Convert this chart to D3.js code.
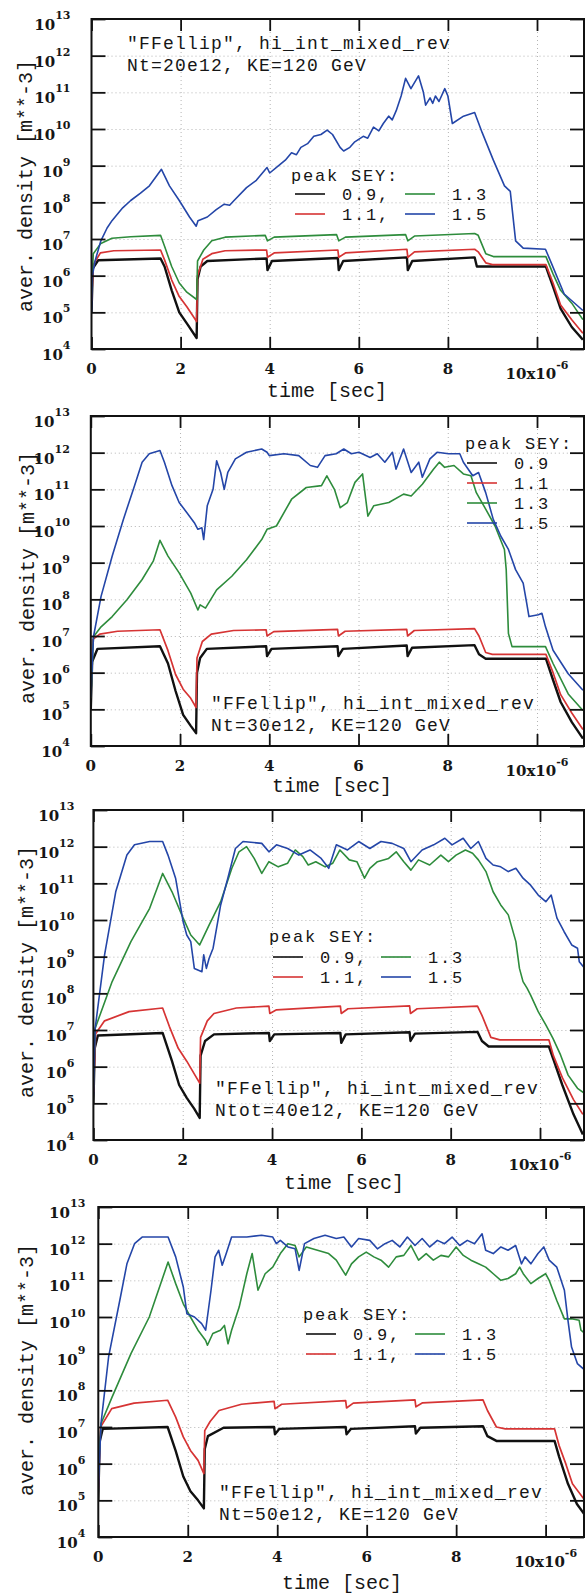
<!DOCTYPE html>
<html>
<head>
<meta charset="utf-8">
<script src="https://cdn.jsdelivr.net/npm/d3@7"></script>
<style>
body { margin: 0; background: #fff; }
svg { display: block; }
.num { font-family: "DejaVu Serif", serif; font-weight: bold; font-size: 15px; fill: #161616; }
.mono { font-family: "Liberation Mono", "DejaVu Sans Mono", monospace; font-size: 20px; fill: #161616; }
.cap { font-family: "Liberation Mono", "DejaVu Sans Mono", monospace; font-size: 18px; letter-spacing: 1.2px; fill: #161616; }
.leg { font-family: "Liberation Mono", "DejaVu Sans Mono", monospace; font-size: 17px; letter-spacing: 1.8px; fill: #161616; }
</style>
</head>
<body>
<div id="chart"></div>
<script>
// time in units of 1e-6 sec, density given as log10 [m**-3]
var xTicks = [0, 2, 4, 6, 8, 10];
var xTickLabels = ["0", "2", "4", "6", "8", "10x10"];
var yExponents = [4, 5, 6, 7, 8, 9, 10, 11, 12, 13];
var seyLabels = ["0.9", "1.1", "1.3", "1.5"];
var seyColors = ["#111111", "#d63434", "#2e8c3c", "#2446a8"];
var captionTop = '"FFellip", hi_int_mixed_rev';
var captionBottom = ["Nt=20e12, KE=120 GeV", "Nt=30e12, KE=120 GeV", "Ntot=40e12, KE=120 GeV", "Nt=50e12, KE=120 GeV"];

// ---- Nt = 20e12
var p1Black = [[0,5.0],[0.03,6.2],[0.15,6.42],[1.55,6.47],[1.64,6.25],[1.8,5.6],[1.97,5.0],[2.14,4.7],[2.36,4.3],[2.38,5.9],[2.45,6.25],[2.6,6.4],[3.93,6.47],[3.95,6.15],[4.05,6.4],[5.53,6.48],[5.55,6.15],[5.65,6.4],[7.08,6.5],[7.1,6.15],[7.2,6.4],[8.6,6.5],[8.65,6.25],[10.2,6.25],[10.36,5.7],[10.53,5.1],[10.78,4.6],[11.03,4.25]];
var p1Red = [[0,5.3],[0.04,6.3],[0.2,6.62],[0.5,6.68],[1.55,6.7],[1.64,6.43],[1.8,5.88],[1.97,5.43],[2.14,5.15],[2.36,4.75],[2.38,6.0],[2.5,6.45],[2.7,6.6],[3.0,6.68],[3.93,6.7],[3.95,6.5],[4.1,6.62],[5.53,6.7],[5.55,6.5],[5.7,6.62],[7.08,6.72],[7.1,6.5],[7.25,6.65],[8.6,6.72],[8.68,6.65],[8.85,6.35],[9.0,6.3],[10.2,6.3],[10.36,5.8],[10.53,5.2],[10.78,4.8],[11.03,4.43]];
var p1Green = [[0,5.5],[0.04,6.6],[0.21,6.88],[0.46,7.02],[0.88,7.06],[1.55,7.1],[1.64,6.8],[1.8,6.25],[1.97,5.8],[2.14,5.55],[2.36,5.35],[2.38,6.4],[2.52,6.7],[2.7,6.95],[3.0,7.05],[3.9,7.1],[3.95,6.95],[4.1,7.05],[5.5,7.12],[5.55,6.95],[5.7,7.05],[7.05,7.12],[7.1,6.95],[7.25,7.08],[8.6,7.15],[8.68,7.1],[8.85,6.6],[9.02,6.52],[10.2,6.52],[10.36,6.05],[10.53,5.6],[10.78,5.25],[11.03,4.8]];
var p1Blue = [[0,5.0],[0.02,6.0],[0.08,6.4],[0.21,6.95],[0.35,7.3],[0.46,7.5],[0.7,7.85],[0.88,8.05],[1.1,8.25],[1.3,8.45],[1.57,8.9],[1.75,8.45],[1.97,8.05],[2.2,7.6],[2.35,7.35],[2.39,7.5],[2.6,7.6],[2.8,7.8],[2.98,7.95],[3.1,7.92],[3.2,8.05],[3.48,8.4],[3.7,8.6],[3.94,8.95],[4.0,8.8],[4.2,9.0],[4.35,9.15],[4.49,9.35],[4.6,9.3],[4.7,9.5],[4.85,9.6],[4.99,9.8],[5.15,9.85],[5.29,9.97],[5.41,9.85],[5.58,9.5],[5.66,9.4],[5.8,9.5],[5.91,9.65],[6.1,9.8],[6.2,9.75],[6.33,10.05],[6.45,9.95],[6.55,10.15],[6.67,10.35],[6.75,10.25],[6.84,10.5],[6.95,10.9],[7.05,11.38],[7.17,11.1],[7.34,11.45],[7.45,11.0],[7.5,10.65],[7.6,10.85],[7.66,10.7],[7.72,10.9],[7.8,10.75],[7.93,11.1],[8.0,10.9],[8.1,10.15],[8.35,10.35],[8.6,10.45],[8.77,9.9],[9.02,9.15],[9.27,8.45],[9.4,8.3],[9.52,6.95],[9.69,6.75],[10.19,6.72],[10.32,6.35],[10.61,5.5],[11.03,5.05]];

// ---- Nt = 30e12
var p2Black = [[0,5.0],[0.03,6.3],[0.15,6.65],[1.55,6.72],[1.73,6.25],[1.9,5.5],[2.07,4.85],[2.24,4.55],[2.36,4.35],[2.38,6.0],[2.45,6.4],[2.6,6.65],[3.93,6.72],[3.95,6.45],[4.05,6.65],[5.53,6.72],[5.55,6.45],[5.65,6.65],[7.08,6.74],[7.1,6.45],[7.2,6.68],[8.6,6.75],[8.7,6.5],[8.85,6.38],[10.2,6.38],[10.36,5.8],[10.53,5.2],[10.78,4.65],[11.03,4.2]];
var p2Red = [[0,5.3],[0.04,6.9],[0.2,7.05],[0.6,7.13],[1.55,7.17],[1.73,6.6],[1.9,5.95],[2.07,5.55],[2.24,5.3],[2.36,5.05],[2.38,6.4],[2.5,6.85],[2.7,7.05],[3.2,7.15],[3.93,7.17],[3.95,7.0],[4.1,7.12],[5.53,7.18],[5.55,7.0],[5.7,7.13],[7.08,7.18],[7.1,7.0],[7.25,7.15],[8.6,7.2],[8.7,7.0],[8.85,6.55],[9.0,6.5],[10.2,6.5],[10.36,6.0],[10.53,5.4],[10.78,4.9],[11.03,4.45]];
var p2Green = [[0,5.3],[0.06,6.98],[0.23,7.25],[0.48,7.53],[0.81,7.99],[1.15,8.54],[1.4,9.04],[1.55,9.61],[1.73,9.18],[1.98,8.72],[2.24,8.17],[2.4,7.71],[2.45,7.85],[2.57,7.76],[2.82,8.26],[3.16,8.63],[3.49,9.08],[3.83,9.63],[3.95,9.91],[4.16,10.0],[4.5,10.73],[4.83,11.05],[5.17,11.1],[5.29,11.37],[5.46,11.0],[5.59,10.5],[5.75,10.64],[5.92,11.19],[6.09,11.42],[6.21,10.27],[6.34,10.55],[6.68,10.64],[7.01,10.87],[7.18,10.82],[7.43,11.14],[7.68,11.55],[7.81,11.74],[7.93,11.6],[8.14,11.65],[8.35,11.42],[8.52,11.37],[8.64,10.91],[8.85,10.46],[9.06,10.0],[9.27,9.36],[9.31,8.81],[9.36,7.07],[9.44,6.71],[10.19,6.71],[10.36,6.25],[10.7,5.42],[11.03,4.97]];
var p2Blue = [[0,5.33],[0.06,6.98],[0.23,8.08],[0.48,9.18],[0.73,10.18],[0.98,11.1],[1.15,11.74],[1.31,11.97],[1.55,12.06],[1.65,11.74],[1.82,11.1],[1.98,10.64],[2.15,10.37],[2.32,10.09],[2.4,9.91],[2.49,9.95],[2.53,9.63],[2.61,10.55],[2.74,11.0],[2.82,11.78],[2.91,11.46],[2.99,11.0],[3.07,11.46],[3.24,11.83],[3.49,12.01],[3.83,12.1],[3.95,12.01],[4.0,11.92],[4.33,11.97],[4.66,11.92],[4.92,11.65],[5.08,11.6],[5.25,11.92],[5.5,11.97],[5.67,12.1],[5.84,11.97],[6.01,12.01],[6.26,11.87],[6.42,11.97],[6.59,11.74],[6.76,12.01],[6.84,11.55],[7.01,12.1],[7.18,11.46],[7.35,11.74],[7.43,11.33],[7.6,11.83],[7.76,12.01],[8.02,11.97],[8.27,11.97],[8.35,11.74],[8.56,11.37],[8.69,11.46],[8.85,10.91],[9.02,10.18],[9.19,9.72],[9.36,9.36],[9.52,8.81],[9.69,8.44],[9.77,7.89],[9.82,7.53],[10.03,7.58],[10.11,7.62],[10.19,7.25],[10.36,6.61],[10.7,5.97],[11.03,5.52]];

// ---- Ntot = 40e12
var p3Black = [[0,5.0],[0.03,6.5],[0.1,6.85],[1.55,6.92],[1.76,6.15],[1.92,5.5],[2.09,5.15],[2.26,4.85],[2.38,4.6],[2.4,6.3],[2.5,6.7],[2.7,6.88],[3.93,6.92],[3.95,6.7],[4.05,6.88],[5.53,6.92],[5.55,6.65],[5.65,6.88],[7.08,6.94],[7.1,6.7],[7.2,6.9],[8.6,6.95],[8.7,6.7],[8.85,6.55],[10.2,6.55],[10.3,6.2],[10.5,5.5],[10.75,4.7],[10.96,4.15]];
var p3Red = [[0,5.3],[0.05,6.9],[0.25,7.25],[0.8,7.5],[1.55,7.6],[1.7,7.1],[1.9,6.5],[2.09,6.15],[2.38,5.55],[2.4,6.8],[2.55,7.25],[2.7,7.45],[3.2,7.6],[3.93,7.65],[3.95,7.45],[4.1,7.55],[5.53,7.65],[5.55,7.45],[5.7,7.58],[7.08,7.66],[7.1,7.45],[7.25,7.58],[8.6,7.65],[8.7,7.4],[8.9,6.8],[9.1,6.73],[10.2,6.73],[10.3,6.3],[10.5,5.7],[10.75,5.1],[10.96,4.7]];
var p3Green = [[0,5.41],[0.04,7.05],[0.42,8.32],[0.84,9.41],[1.26,10.32],[1.55,11.27],[1.76,10.77],[2.01,10.05],[2.18,9.59],[2.38,9.32],[2.59,9.86],[2.85,10.5],[3.1,11.41],[3.26,11.86],[3.43,12.0],[3.6,11.68],[3.77,11.27],[3.93,11.59],[4.14,11.45],[4.35,11.55],[4.52,11.91],[4.69,11.73],[4.81,11.5],[4.98,11.59],[5.19,11.45],[5.36,11.55],[5.52,11.91],[5.73,11.64],[5.9,11.59],[6.07,11.14],[6.19,11.41],[6.36,11.59],[6.61,11.68],[6.78,11.86],[6.95,11.59],[7.11,11.36],[7.28,11.64],[7.53,11.5],[7.78,11.77],[7.95,11.59],[8.12,11.77],[8.33,11.91],[8.49,11.82],[8.62,11.64],[8.79,11.32],[8.95,10.77],[9.12,10.41],[9.29,10.14],[9.46,9.41],[9.54,8.68],[9.62,8.32],[9.71,8.14],[9.79,7.95],[9.96,7.5],[10.13,7.14],[10.29,6.77],[10.46,6.32],[10.63,5.77],[10.84,5.41],[11.0,5.27]];
var p3Blue = [[0,5.23],[0.04,7.05],[0.25,9.05],[0.5,10.77],[0.75,11.77],[0.92,12.05],[1.26,12.14],[1.55,12.14],[1.67,11.77],[1.84,11.14],[2.01,9.95],[2.09,9.59],[2.18,9.41],[2.26,8.68],[2.43,8.59],[2.47,9.05],[2.53,8.68],[2.59,8.95],[2.68,9.23],[2.85,10.41],[3.01,11.14],[3.18,11.95],[3.35,12.14],[3.77,12.09],[3.93,11.86],[4.1,12.05],[4.35,11.95],[4.6,11.77],[4.85,11.91],[5.1,11.68],[5.27,11.41],[5.44,12.05],[5.69,11.91],[5.94,12.14],[6.19,11.95],[6.44,12.14],[6.69,12.09],[6.95,11.95],[7.11,11.59],[7.36,11.91],[7.62,12.05],[7.87,12.23],[8.03,12.05],[8.28,12.23],[8.45,11.95],[8.62,12.14],[8.79,11.68],[8.95,11.5],[9.12,11.45],[9.29,11.32],[9.46,11.41],[9.62,11.14],[9.79,10.95],[9.96,10.68],[10.13,10.5],[10.25,10.68],[10.38,10.05],[10.54,9.68],[10.71,9.32],[10.84,9.23],[10.88,8.86],[11.0,8.68]];

// ---- Nt = 50e12
var p4Black = [[0,5.0],[0.03,6.6],[0.1,6.95],[1.55,7.0],[1.73,6.35],[1.9,5.65],[2.06,5.25],[2.23,5.0],[2.36,4.78],[2.38,6.4],[2.45,6.75],[2.8,6.98],[3.93,7.0],[3.95,6.8],[4.05,6.95],[5.53,7.0],[5.55,6.8],[5.65,6.95],[7.08,7.02],[7.1,6.82],[7.2,6.98],[8.6,7.02],[8.7,6.75],[8.9,6.62],[10.2,6.62],[10.3,6.2],[10.5,5.45],[10.7,4.9],[10.88,4.6]];
var p4Red = [[0,5.3],[0.05,7.0],[0.3,7.5],[0.8,7.65],[1.55,7.73],[1.73,7.27],[1.9,6.73],[2.06,6.36],[2.23,6.09],[2.36,5.73],[2.38,6.9],[2.5,7.15],[2.7,7.45],[3.2,7.62],[3.93,7.7],[3.95,7.5],[4.1,7.62],[5.53,7.72],[5.55,7.52],[5.7,7.65],[7.08,7.74],[7.1,7.55],[7.25,7.66],[8.6,7.74],[8.7,7.45],[8.9,7.0],[9.1,6.95],[10.2,6.95],[10.3,6.5],[10.45,6.0],[10.6,5.45],[10.88,5.0]];
var p4Green = [[0,5.73],[0.06,7.09],[0.31,7.82],[0.73,9.0],[1.14,10.0],[1.56,11.5],[1.73,10.91],[1.9,10.36],[2.06,10.0],[2.23,9.64],[2.4,9.36],[2.44,9.23],[2.56,9.55],[2.73,9.64],[2.82,9.77],[2.9,9.27],[2.98,9.64],[3.15,10.27],[3.32,11.18],[3.44,11.73],[3.57,10.73],[3.73,11.18],[3.9,11.36],[4.07,11.73],[4.24,12.0],[4.4,11.95],[4.49,11.64],[4.65,11.91],[4.9,11.82],[5.15,11.73],[5.32,11.55],[5.53,11.14],[5.66,11.45],[5.82,11.64],[5.99,11.77],[6.16,11.64],[6.32,11.55],[6.49,11.36],[6.66,11.64],[6.83,11.68],[6.99,11.95],[7.16,11.55],[7.33,11.73],[7.49,11.55],[7.66,11.68],[7.83,11.64],[8.0,11.91],[8.16,11.68],[8.33,11.55],[8.5,11.45],[8.66,11.36],[8.83,11.18],[9.0,11.0],[9.16,11.05],[9.33,11.18],[9.42,11.36],[9.5,11.18],[9.67,10.91],[9.83,11.05],[10.0,11.18],[10.08,11.0],[10.25,10.45],[10.42,9.95],[10.58,9.95],[10.75,9.91],[10.79,9.64],[10.88,9.55]];
var p4Blue = [[0,5.27],[0.06,7.09],[0.23,8.91],[0.48,10.45],[0.64,11.45],[0.81,12.0],[0.98,12.18],[1.56,12.18],[1.73,11.64],[1.9,10.82],[1.98,10.09],[2.15,10.0],[2.31,9.82],[2.4,9.64],[2.44,10.0],[2.52,10.73],[2.61,11.64],[2.69,11.82],[2.77,11.41],[2.86,11.73],[2.98,12.18],[3.32,12.18],[3.65,12.23],[3.9,12.18],[3.98,12.0],[4.07,12.09],[4.24,11.91],[4.4,11.86],[4.49,11.27],[4.61,12.0],[4.82,12.14],[5.07,12.23],[5.32,12.14],[5.49,12.18],[5.66,11.91],[5.82,12.14],[6.07,12.09],[6.24,11.86],[6.41,12.0],[6.57,12.09],[6.74,11.91],[6.91,12.18],[7.08,11.95],[7.24,12.14],[7.41,11.91],[7.58,12.09],[7.74,12.0],[7.91,12.18],[8.08,11.95],[8.25,12.09],[8.41,12.0],[8.58,12.27],[8.66,11.82],[8.83,11.73],[9.0,11.91],[9.16,11.82],[9.33,11.95],[9.46,11.45],[9.54,11.64],[9.67,11.45],[9.83,11.73],[9.96,11.91],[10.08,11.55],[10.25,11.36],[10.42,10.73],[10.5,9.91],[10.58,9.18],[10.71,8.73],[10.88,8.55]];

var panelSeries = [
    [p1Black, p1Red, p1Green, p1Blue],
    [p2Black, p2Red, p2Green, p2Blue],
    [p3Black, p3Red, p3Green, p3Blue],
    [p4Black, p4Red, p4Green, p4Blue]
];

// posiciones de cada panel (pixeles)
var layout = [
    {left:91.5, right:584, top:19, bottom:349, x10:537, labGap:21,
     xTitle:[327,397], yTitle:[26,186], caption:[127,49],
     legend:{x:291, y:181, cols:[295,405], rows:[194,214], oneCol:false}},
    {left:90.8, right:584, top:416, bottom:746, x10:537, labGap:21,
     xTitle:[332,792], yTitle:[28,578], caption:[211,709],
     legend:{x:465, y:449, cols:[467], rows:[463,483,503,523], oneCol:true}},
    {left:93.4, right:584, top:810, bottom:1140, x10:540, labGap:19,
     xTitle:[344,1189], yTitle:[27,972], caption:[215,1094],
     legend:{x:269, y:942, cols:[273,381], rows:[957,977], oneCol:false}},
    {left:98.3, right:584, top:1207, bottom:1537, x10:545.6, labGap:13,
     xTitle:[342,1589], yTitle:[27,1370], caption:[219,1498],
     legend:{x:303, y:1320, cols:[306,415], rows:[1334,1354], oneCol:false}}
];

var svg = d3.select("#chart").append("svg")
    .attr("width", 586)
    .attr("height", 1596);

svg.append("rect").attr("width", 586).attr("height", 1596).attr("fill", "#fff");

layout.forEach(function(L, p) {
    var unit = (L.x10 - L.left) / 10;
    var xScale = d3.scaleLinear()
        .domain([0, (L.right - L.left) / unit])
        .range([L.left, L.right]);
    var yScale = d3.scaleLog()
        .domain([1e4, 1e13])
        .range([L.bottom, L.top]);
    var yVals = yExponents.map(function(e){ return Math.pow(10, e); });
    var h = L.bottom - L.top, w = L.right - L.left;

    var g = svg.append("g");

    // grid punteado
    var gx = g.append("g").attr("transform", "translate(0," + L.bottom + ")")
        .call(d3.axisBottom(xScale).tickValues(xTicks.slice(1)).tickSize(-h).tickFormat(""));
    var gy = g.append("g").attr("transform", "translate(" + L.left + ",0)")
        .call(d3.axisLeft(yScale).tickValues(yVals.slice(1, -1)).tickSize(-w).tickFormat(""));
    [gx, gy].forEach(function(a) {
        a.select(".domain").remove();
        a.selectAll("line").attr("stroke", "#b4b4b4").attr("stroke-width", 1).attr("stroke-dasharray", "1,3");
    });

    // curvas
    var clipId = "clip" + p;
    svg.append("clipPath").attr("id", clipId).append("rect")
        .attr("x", L.left).attr("y", L.top).attr("width", w).attr("height", h);

    var line = d3.line()
        .x(function(d){ return xScale(d[0]); })
        .y(function(d){ return yScale(Math.pow(10, d[1])); });

    var widths = [2.4, 1.7, 1.6, 1.6];
    g.append("g").attr("clip-path", "url(#" + clipId + ")")
        .selectAll("path")
        .data(panelSeries[p])
        .enter()
        .append("path")
        .attr("d", line)
        .attr("fill", "none")
        .attr("stroke", function(d, i){ return seyColors[i]; })
        .attr("stroke-width", function(d, i){ return widths[i]; })
        .attr("stroke-linejoin", "round");

    // ticks hacia dentro en los cuatro lados
    var axes = [
        g.append("g").attr("transform", "translate(0," + L.bottom + ")")
            .call(d3.axisBottom(xScale).tickValues(xTicks).tickSize(-12).tickFormat("")),
        g.append("g").attr("transform", "translate(0," + L.top + ")")
            .call(d3.axisTop(xScale).tickValues(xTicks).tickSize(-12).tickFormat("")),
        g.append("g").attr("transform", "translate(" + L.left + ",0)")
            .call(d3.axisLeft(yScale).tickValues(yVals).tickSize(-14).tickFormat("")),
        g.append("g").attr("transform", "translate(" + L.right + ",0)")
            .call(d3.axisRight(yScale).tickValues(yVals).tickSize(-14).tickFormat(""))
    ];
    axes.forEach(function(a) {
        a.select(".domain").remove();
        a.selectAll("line").attr("stroke", "#111").attr("stroke-width", 1.8);
    });

    g.append("rect")
        .attr("x", L.left).attr("y", L.top).attr("width", w).attr("height", h)
        .attr("fill", "none").attr("stroke", "#111").attr("stroke-width", 2);

    // etiquetas eje x
    g.selectAll(".xlab")
        .data(xTicks)
        .enter()
        .append("text")
        .attr("class", "num")
        .attr("text-anchor", "middle")
        .attr("x", function(d){ return xScale(d); })
        .attr("y", function(d, i){ return L.bottom + (i === xTicks.length - 1 ? 30 : 25); })
        .each(function(d, i) {
            var t = d3.select(this);
            t.append("tspan").text(xTickLabels[i]);
            if (i === xTicks.length - 1) {
                t.append("tspan").attr("dy", -10).attr("font-size", 11).text("-6");
            }
        });

    // etiquetas eje y (10^n)
    g.selectAll(".ylab")
        .data(yExponents)
        .enter()
        .append("text")
        .attr("class", "num")
        .attr("text-anchor", "end")
        .attr("x", L.left - L.labGap)
        .attr("y", function(d){ return yScale(Math.pow(10, d)) + 11; })
        .each(function(d) {
            var t = d3.select(this);
            t.append("tspan").text("10");
            t.append("tspan").attr("dy", -11).attr("font-size", 11).text(d);
        });

    // titulos
    g.append("text").attr("class", "mono")
        .attr("text-anchor", "middle")
        .attr("x", L.xTitle[0]).attr("y", L.xTitle[1])
        .text("time [sec]");
    g.append("text").attr("class", "mono")
        .attr("text-anchor", "middle")
        .attr("dominant-baseline", "central")
        .attr("transform", "translate(" + L.yTitle[0] + "," + L.yTitle[1] + ") rotate(-90)")
        .text("aver. density [m**-3]");

    // texto del caso
    g.append("text").attr("class", "cap")
        .attr("x", L.caption[0]).attr("y", L.caption[1])
        .text(captionTop);
    g.append("text").attr("class", "cap")
        .attr("x", L.caption[0]).attr("y", L.caption[1] + 22)
        .text(captionBottom[p]);

    // leyenda
    var lg = L.legend;
    g.append("text").attr("class", "leg")
        .attr("x", lg.x).attr("y", lg.y)
        .text("peak SEY:");
    seyLabels.forEach(function(lab, i) {
        var col = lg.oneCol ? 0 : (i >> 1);
        var row = lg.oneCol ? i : (i & 1);
        var x0 = lg.cols[col], yy = lg.rows[row];
        g.append("line")
            .attr("x1", x0).attr("x2", x0 + 30)
            .attr("y1", yy).attr("y2", yy)
            .attr("stroke", seyColors[i]).attr("stroke-width", 1.6);
        g.append("text").attr("class", "leg")
            .attr("x", x0 + 47).attr("y", yy + 6)
            .text(lab + (!lg.oneCol && col === 0 ? "," : ""));
    });
});
</script>
</body>
</html>
